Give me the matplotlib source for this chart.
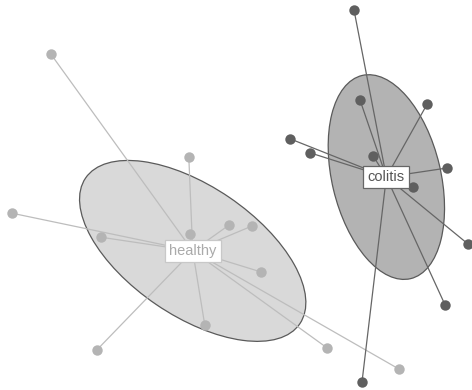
import numpy as np
import matplotlib
matplotlib.use("Agg")
import matplotlib.pyplot as plt
from matplotlib.patches import Ellipse

# Ordination scores (PC1, PC2) per sample
healthy_pc1 = [-0.473, -0.128, -0.570, -0.348, -0.125, -0.028, -0.088, -0.358, 0.030, 0.053, 0.218, 0.398]
healthy_pc2 = [0.365, 0.108, -0.033, -0.093, -0.085, -0.063, -0.313, -0.375, -0.065, -0.180, -0.370, -0.423]
colitis_pc1 = [0.285, 0.300, 0.468, 0.125, 0.175, 0.333, 0.518, 0.433, 0.570, 0.513, 0.305]
colitis_pc2 = [0.475, 0.250, 0.240, 0.153, 0.118, 0.110, 0.080, 0.033, -0.110, -0.263, -0.455]

groups = ["healthy", "colitis"]
group_x = [healthy_pc1, colitis_pc1]
group_y = [healthy_pc2, colitis_pc2]

styles = {
    "healthy": dict(point="#b4b4b4", line="#bdbdbd", fill="#d9d9d9", text="#aaaaaa", box="#c8c8c8"),
    "colitis": dict(point="#5f5f5f", line="#666666", fill="#b3b3b3", text="#555555", box="#666666"),
}

fig = plt.figure(figsize=(4.72, 3.90), dpi=100)
ax = fig.add_axes([0, 0, 1, 1])
ax.set_xlim(-0.60, 0.58)
ax.set_ylim(-0.475, 0.50)
ax.set_aspect("equal")
ax.axis("off")


def sd_ellipse(x, y, **kw):
    cov = np.cov(x, y)
    vals, vecs = np.linalg.eigh(cov)
    order = vals.argsort()[::-1]
    vals, vecs = vals[order], vecs[:, order]
    angle = np.degrees(np.arctan2(vecs[1, 0], vecs[0, 0]))
    return Ellipse((np.mean(x), np.mean(y)), 2 * np.sqrt(vals[0]), 2 * np.sqrt(vals[1]),
                   angle=angle, **kw)


# ellipses first
for g, xs, ys in zip(groups, group_x, group_y):
    st = styles[g]
    ax.add_patch(sd_ellipse(np.array(xs), np.array(ys), facecolor=st["fill"],
                            edgecolor="#5a5a5a", linewidth=0.9, zorder=1))

# spiders, points and centroid labels
for g, xs, ys in zip(groups, group_x, group_y):
    st = styles[g]
    xs, ys = np.array(xs), np.array(ys)
    cx, cy = xs.mean(), ys.mean()
    for xi, yi in zip(xs, ys):
        ax.plot([cx, xi], [cy, yi], color=st["line"], linewidth=0.9, zorder=2)
    ax.plot(xs, ys, "o", color=st["point"], markersize=7.5, markeredgewidth=0, zorder=3)
    ax.text(cx, cy, g, ha="center", va="center", fontsize=10.5, color=st["text"],
            family=["Liberation Sans", "DejaVu Sans"], zorder=4,
            bbox=dict(boxstyle="square,pad=0.3", facecolor="white",
                      edgecolor=st["box"], linewidth=0.9))

fig.savefig("out.png", dpi=100)
